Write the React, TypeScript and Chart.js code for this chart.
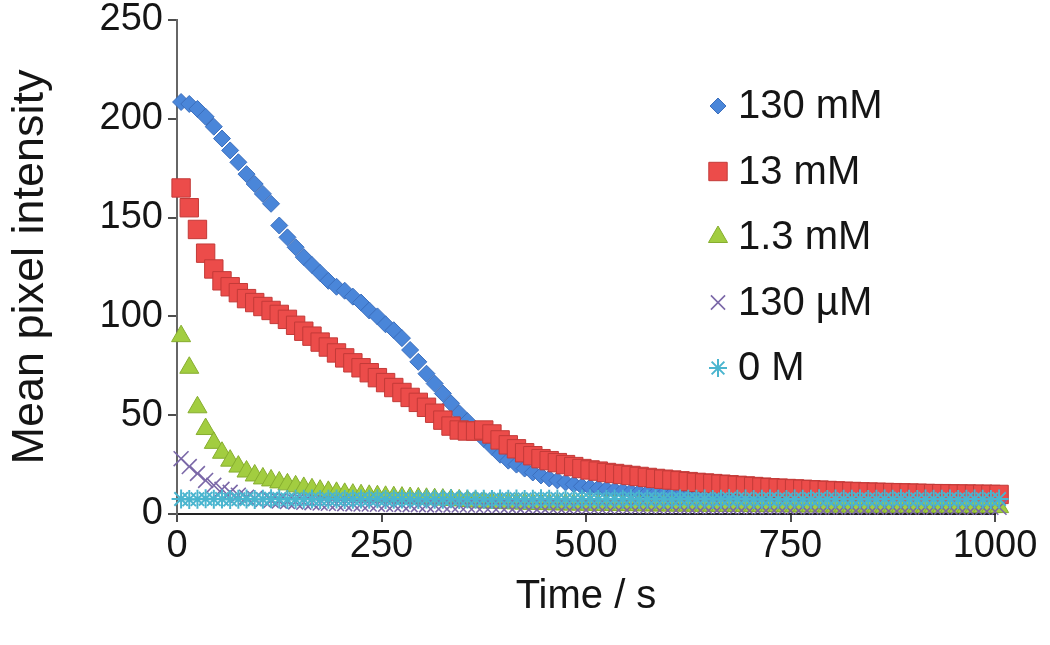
import React, { useEffect, useRef } from 'react';
import { Chart, registerables } from 'chart.js';
import { drawPoint } from 'chart.js/helpers';

Chart.register(...registerables);

// ---- data ----
const TIME = [
  5, 15, 25, 35, 45, 55, 65, 75, 85, 95,
  105, 115, 125, 135, 145, 155, 165, 175, 185, 195,
  205, 215, 225, 235, 245, 255, 265, 275, 285, 295,
  305, 315, 325, 335, 345, 355, 365, 375, 385, 395,
  405, 415, 425, 435, 445, 455, 465, 475, 485, 495,
  505, 515, 525, 535, 545, 555, 565, 575, 585, 595,
  605, 615, 625, 635, 645, 655, 665, 675, 685, 695,
  705, 715, 725, 735, 745, 755, 765, 775, 785, 795,
  805, 815, 825, 835, 845, 855, 865, 875, 885, 895,
  905, 915, 925, 935, 945, 955, 965, 975, 985, 995,
  1005,
];

const S_130mM = [
  208.5, 207.5, 205, 201, 196, 190, 184, 178, 172, 167,
  162, 157, 146, 140, 135, 130, 126, 122, 118, 115,
  113, 110, 107, 103, 100, 96, 93, 89, 83, 77,
  71, 66, 61, 56, 51, 47, 42, 38, 34, 30,
  27, 25, 23, 21, 19.5, 18, 17, 16, 15, 14,
  13.5, 13, 12.5, 12, 11.6, 11.2, 10.9, 10.6, 10.3, 10,
  9.8, 9.6, 9.4, 9.2, 9, 8.8, 8.6, 8.5, 8.3, 8.2,
  8, 7.9, 7.8, 7.7, 7.6, 7.5, 7.4, 7.3, 7.2, 7.1,
  7, 7, 6.9, 6.9, 6.8, 6.8, 6.7, 6.7, 6.6, 6.6,
  6.5, 6.5, 6.5, 6.4, 6.4, 6.4, 6.3, 6.3, 6.3, 6.2,
  6.2,
];

const S_13mM = [
  165, 155, 144, 132, 124, 118, 115, 112, 109, 107,
  105, 103, 101, 98.5, 95.5, 92.5, 90, 87, 84.5, 81.5,
  79, 76.5, 74, 71.5, 69, 66.5, 64, 61.5, 59, 56.5,
  54, 51, 47.5, 44.5, 42.5, 42, 42, 42.5, 40.5, 37.5,
  35, 33, 31, 29.5, 28, 27, 26, 25, 24, 23,
  22.3, 21.7, 21, 20.5, 20, 19.5, 19, 18.5, 18, 17.6,
  17.2, 16.8, 16.4, 16, 15.7, 15.4, 15.1, 14.8, 14.5, 14.2,
  13.9, 13.6, 13.3, 13.1, 12.9, 12.7, 12.5, 12.3, 12.1, 11.9,
  11.7, 11.5, 11.4, 11.2, 11.1, 11, 10.9, 10.8, 10.7, 10.6,
  10.5, 10.4, 10.3, 10.3, 10.2, 10.1, 10.1, 10, 10, 9.9,
  9.9,
];

const S_1_3mM = [
  90, 74, 54, 43, 36, 31, 27, 24, 21.5, 19.5,
  18, 17, 16, 15, 14, 13.2, 12.5, 11.8, 11.2, 10.7,
  10.2, 9.8, 9.5, 9.2, 9, 8.7, 8.5, 8.3, 8.1, 7.9,
  7.7, 7.5, 7.3, 7.1, 6.9, 6.6, 6.3, 6, 5.8, 5.6,
  5.5, 5.4, 5.3, 5.2, 5.1, 5, 4.9, 4.9, 4.8, 4.8,
  4.7, 4.7, 4.6, 4.6, 4.5, 4.5, 4.5, 4.4, 4.4, 4.4,
  4.3, 4.3, 4.3, 4.2, 4.2, 4.2, 4.1, 4.1, 4.1, 4.1,
  4.0, 4.0, 4.0, 4.0, 3.9, 3.9, 3.9, 3.9, 3.9, 3.8,
  3.8, 3.8, 3.8, 3.8, 3.7, 3.7, 3.7, 3.7, 3.7, 3.6,
  3.6, 3.6, 3.6, 3.6, 3.6, 3.5, 3.5, 3.5, 3.5, 3.5,
  3.5,
];

const S_130uM = [
  28, 24, 20.5, 17, 14.5, 12.5, 11, 9.5, 8.5, 7.8,
  7.3, 6.9, 6.6, 6.3, 6.1, 5.9, 5.7, 5.5, 5.4, 5.3,
  5.2, 5.1, 5.0, 5.0, 4.9, 4.9, 4.8, 4.8, 4.7, 4.7,
  4.6, 4.6, 4.6, 4.5, 4.5, 4.5, 4.4, 4.4, 4.4, 4.3,
  4.3, 4.3, 4.3, 4.2, 4.2, 4.2, 4.2, 4.1, 4.1, 4.1,
  4.1, 4.0, 4.0, 4.0, 4.0, 4.0, 3.9, 3.9, 3.9, 3.9,
  3.9, 3.9, 3.8, 3.8, 3.8, 3.8, 3.8, 3.8, 3.8, 3.7,
  3.7, 3.7, 3.7, 3.7, 3.7, 3.7, 3.7, 3.6, 3.6, 3.6,
  3.6, 3.6, 3.6, 3.6, 3.6, 3.6, 3.5, 3.5, 3.5, 3.5,
  3.5, 3.5, 3.5, 3.5, 3.5, 3.5, 3.4, 3.4, 3.4, 3.4,
  3.4,
];

const S_0M = [
  7.6, 7.4, 7.5, 7.7, 7.5, 7.6, 7.3, 7.5, 7.6, 7.4,
  7.5, 7.7, 7.6, 7.4, 7.5, 7.5, 7.6, 7.3, 7.5, 7.6,
  7.4, 7.5, 7.6, 7.5, 7.7, 7.4, 7.5, 7.6, 7.5, 7.4,
  7.6, 7.5, 7.5, 7.7, 7.4, 7.6, 7.5, 7.5, 7.3, 7.6,
  7.5, 7.6, 7.4, 7.5, 7.7, 7.5, 7.6, 7.4, 7.5, 7.5,
  7.6, 7.4, 7.5, 7.6, 7.5, 7.7, 7.4, 7.5, 7.6, 7.5,
  7.4, 7.6, 7.5, 7.5, 7.6, 7.4, 7.5, 7.7, 7.5, 7.6,
  7.4, 7.5, 7.6, 7.5, 7.4, 7.6, 7.5, 7.5, 7.7, 7.4,
  7.6, 7.5, 7.5, 7.6, 7.4, 7.5, 7.6, 7.5, 7.7, 7.5,
  7.4, 7.6, 7.5, 7.5, 7.6, 7.4, 7.5, 7.6, 7.5, 7.4,
  7.6,
];

const SERIES_LABELS = ['130 mM', '13 mM', '1.3 mM', '130 µM', '0 M'];
const SERIES_VALUES = [S_130mM, S_13mM, S_1_3mM, S_130uM, S_0M];
const X_TICKS = [0, 250, 500, 750, 1000];
const Y_TICKS = [0, 50, 100, 150, 200, 250];
const X_TITLE = 'Time / s';
const Y_TITLE = 'Mean pixel intensity';

// ---- styles ----
const FONT = "'Liberation Sans', Arial, Helvetica, sans-serif";
const TEXT = '#151515';
const AXIS = '#4d4d4d';

const MARKERS = [
  { pointStyle: 'rectRot', radius: 8.5, fill: '#4a86d9', stroke: '#3c6fbd', width: 1 },
  { pointStyle: 'rect', radius: 13, fill: '#ec4c4a', stroke: '#c33a38', width: 1 },
  { pointStyle: 'triangle', radius: 11, fill: '#a2cd40', stroke: '#86ad2f', width: 1 },
  { pointStyle: 'crossRot', radius: 10.5, fill: 'rgba(0,0,0,0)', stroke: '#7b68a8', width: 1.6 },
  { pointStyle: 'star', radius: 9.5, fill: 'rgba(0,0,0,0)', stroke: '#4ab5cf', width: 2 },
];

const LEGEND_MARKER_RADIUS = [8, 13, 11, 10, 9];

const legendPlugin = {
  id: 'insideLegend',
  afterDraw(chart: any) {
    const ctx = chart.ctx;
    const x0 = 718;
    const y0 = 106;
    const gap = 65.5;
    ctx.save();
    SERIES_LABELS.forEach((label, i) => {
      const m = MARKERS[i];
      const y = y0 + i * gap;
      ctx.fillStyle = m.fill;
      ctx.strokeStyle = m.stroke;
      ctx.lineWidth = m.width;
      drawPoint(ctx, { pointStyle: m.pointStyle as any, rotation: 0, radius: LEGEND_MARKER_RADIUS[i], borderWidth: m.width }, x0, y);
      ctx.fillStyle = TEXT;
      ctx.font = `40px ${FONT}`;
      ctx.textAlign = 'left';
      ctx.textBaseline = 'middle';
      ctx.fillText(label, x0 + 20, y + 1);
    });
    ctx.restore();
  },
};

export default function App() {
  const ref = useRef<HTMLCanvasElement | null>(null);

  useEffect(() => {
    if (!ref.current) return;
    const order = [5, 4, 3, 2, 1];
    const datasets = SERIES_VALUES.map((vals, i) => ({
      label: SERIES_LABELS[i],
      data: TIME.map((t, k) => ({ x: t, y: vals[k] })),
      showLine: false,
      pointStyle: MARKERS[i].pointStyle,
      pointRadius: MARKERS[i].radius,
      pointBackgroundColor: MARKERS[i].fill,
      pointBorderColor: MARKERS[i].stroke,
      pointBorderWidth: MARKERS[i].width,
      backgroundColor: MARKERS[i].fill,
      borderColor: MARKERS[i].stroke,
      clip: false,
      order: order[i],
    }));

    const chart = new Chart(ref.current, {
      type: 'scatter',
      data: { datasets: datasets as any },
      plugins: [legendPlugin],
      options: {
        animation: false,
        responsive: false,
        devicePixelRatio: 1,
        layout: { padding: { top: 20, right: 55, bottom: 0, left: 0 } },
        plugins: { legend: { display: false }, tooltip: { enabled: false } },
        scales: {
          x: {
            type: 'linear',
            min: 0,
            max: 1000,
            afterBuildTicks: (s: any) => {
              s.ticks = X_TICKS.map((v) => ({ value: v }));
            },
            afterFit: (s: any) => {
              s.height = 131;
              s.paddingLeft = 0;
              s.paddingRight = 0;
            },
            ticks: {
              color: TEXT,
              font: { family: FONT, size: 38 },
              padding: 2,
              maxRotation: 0,
              callback: (v: any) => String(v),
            },
            grid: {
              drawOnChartArea: false,
              drawTicks: true,
              tickLength: 8,
              tickColor: AXIS,
              tickWidth: 2,
              color: AXIS,
              lineWidth: 2,
            },
            border: { display: true, color: '#222', width: 2 },
            title: {
              display: true,
              text: X_TITLE,
              color: TEXT,
              font: { family: FONT, size: 40 },
              padding: { top: 0, bottom: 24 },
            },
          },
          y: {
            type: 'linear',
            min: 0,
            max: 250,
            afterBuildTicks: (s: any) => {
              s.ticks = Y_TICKS.map((v) => ({ value: v }));
            },
            afterFit: (s: any) => {
              s.width = 177;
              s.paddingTop = 0;
              s.paddingBottom = 0;
            },
            ticks: {
              color: TEXT,
              font: { family: FONT, size: 38 },
              padding: 5,
              callback: (v: any) => String(v),
            },
            grid: {
              drawOnChartArea: false,
              drawTicks: true,
              tickLength: 9,
              tickColor: AXIS,
              tickWidth: 2,
              color: AXIS,
              lineWidth: 2,
            },
            border: { display: true, color: '#666', width: 2 },
            title: {
              display: true,
              text: Y_TITLE,
              color: TEXT,
              font: { family: FONT, size: 45 },
              padding: { top: 4, bottom: 0 },
            },
          },
        },
      } as any,
    });
    return () => chart.destroy();
  }, []);

  return (
    <canvas
      ref={ref}
      width={1050}
      height={645}
      style={{ position: 'absolute', left: 0, top: 0, width: 1050, height: 645 }}
    />
  );
}
